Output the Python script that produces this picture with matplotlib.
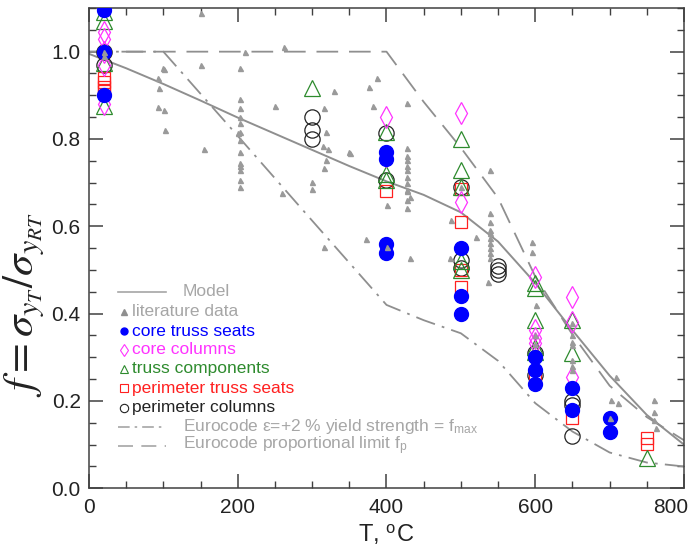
import matplotlib
matplotlib.use("Agg")
import matplotlib.pyplot as plt
from matplotlib.ticker import MultipleLocator, FuncFormatter

plt.rcParams['font.family'] = ['Liberation Sans', 'DejaVu Sans']
plt.rcParams['mathtext.fontset'] = 'stix'

# ---------------- data ----------------
model_T = [0, 50, 100, 150, 200, 250, 300, 350, 400, 450, 500, 550, 600, 650, 700, 750, 800]
model_f = [0.995, 0.962, 0.926, 0.888, 0.849, 0.812, 0.775, 0.738, 0.703, 0.672, 0.632, 0.565, 0.47, 0.362, 0.258, 0.168, 0.10]

ec_max_T = [0, 100, 200, 300, 400, 450, 500, 550, 600, 650, 700, 750, 800]
ec_max_f = [1.0, 1.0, 0.807, 0.613, 0.42, 0.385, 0.355, 0.292, 0.195, 0.13, 0.082, 0.059, 0.05]

ec_p_T = [0, 400, 450, 500, 550, 600, 650, 700, 750, 800]
ec_p_f = [1.0, 1.0, 0.885, 0.78, 0.665, 0.485, 0.352, 0.235, 0.163, 0.11]

lit_T = [20, 20, 99, 101, 93, 94, 93, 101, 102, 150, 155, 151,
         203, 203, 203, 203, 203, 203, 200, 203, 203, 203, 203, 203, 203, 203,
         210, 262, 250, 259,
         316, 318, 315, 322, 318, 316, 300, 300, 316, 330, 349,
         387, 376, 382, 428, 351,
         428, 428, 428, 428, 428, 428, 428, 428, 428, 428, 428, 431,
         401, 373, 431, 401,
         539, 539, 539, 539, 539, 539, 539, 539, 539, 539,
         521, 487, 486, 596, 595, 536, 601, 500, 600, 600,
         650, 650, 650, 650, 650, 650, 650,
         708, 702, 711, 700, 760, 760, 760, 762]
lit_f = [1.0, 0.99, 0.962, 0.96, 0.939, 0.916, 0.874, 0.867, 0.821, 0.97, 0.777, 1.088,
         0.962, 0.891, 0.871, 0.851, 0.836, 0.817, 0.813, 0.798, 0.771, 0.745, 0.737, 0.729, 0.706, 0.69,
         1.0, 1.01, 0.876, 0.677,
         0.871, 0.817, 0.783, 0.777, 0.752, 0.733, 0.702, 0.685, 0.553, 0.91, 0.771,
         0.94, 0.92, 0.876, 0.882, 0.769,
         0.779, 0.76, 0.752, 0.737, 0.729, 0.714, 0.699, 0.684, 0.68, 0.661, 0.641, 0.668,
         0.649, 0.57, 0.527, 0.553,
         0.729, 0.63, 0.611, 0.592, 0.584, 0.573, 0.561, 0.55, 0.538, 0.527,
         0.575, 0.615, 0.527, 0.565, 0.542, 0.473, 0.42, 0.69, 0.35, 0.33,
         0.378, 0.351, 0.336, 0.328, 0.294, 0.279, 0.271,
         0.256, 0.202, 0.196, 0.16, 0.202, 0.175, 0.156, 0.137]

cts_T = [20, 20, 20, 400, 400, 400, 400, 500, 500, 500, 600, 600, 600, 650, 650, 700, 700]
cts_f = [1.095, 1.0, 0.90, 0.77, 0.755, 0.56, 0.54, 0.55, 0.44, 0.40, 0.30, 0.27, 0.24, 0.23, 0.18, 0.16, 0.13]

cc_T = [20, 20, 20, 20, 20, 400, 400, 500, 500, 600, 600, 600, 600, 650, 650, 650]
cc_f = [1.045, 1.03, 1.0, 0.97, 0.88, 0.85, 0.76, 0.86, 0.655, 0.485, 0.363, 0.344, 0.332, 0.439, 0.382, 0.256]

tc_T = [20, 20, 20, 20, 300, 400, 400, 400, 500, 500, 500, 500, 500, 600, 600, 600, 600, 600, 650, 650, 750]
tc_f = [1.09, 1.07, 0.975, 0.875, 0.917, 0.815, 0.72, 0.705, 0.80, 0.73, 0.69, 0.52, 0.50, 0.47, 0.458, 0.386, 0.324, 0.313, 0.386, 0.309, 0.07]

pts_T = [20, 20, 20, 20, 400, 500, 500, 500, 500, 600, 650, 750, 750]
pts_f = [0.94, 0.93, 0.92, 0.91, 0.68, 0.685, 0.61, 0.50, 0.46, 0.26, 0.16, 0.115, 0.102]

pc_T = [20, 20, 300, 300, 300, 400, 400, 500, 500, 500, 550, 550, 550, 600, 600, 650, 650, 650]
pc_f = [1.0, 0.97, 0.85, 0.82, 0.80, 0.813, 0.706, 0.69, 0.523, 0.504, 0.51, 0.50, 0.49, 0.31, 0.26, 0.20, 0.19, 0.12]

legend_labels = ["Model", "literature data", "core truss seats", "core columns",
                 "truss components", "perimeter truss seats", "perimeter columns",
                 "Eurocode \u03b5=+2 % yield strength = f$_{\\mathregular{max}}$",
                 "Eurocode proportional limit f$_{\\mathregular{p}}$"]

# ---------------- style ----------------
GRAY = '#8f8f8f'
LITG = '#9a9a9a'
LGRAY = '#a6a6a6'
BLUE = '#0000ff'
MAG = '#ff33ff'
GREEN = '#2e8b2e'
RED = '#ff2020'
BLACK = '#222222'

fig = plt.figure(figsize=(6.91, 5.54), dpi=100)
ax = fig.add_axes([89/691, (554-488.3)/554, (684-89)/691, (488.3-8)/554])

ax.plot(model_T, model_f, color=GRAY, lw=1.4, zorder=2)
ax.plot(ec_max_T, ec_max_f, color=GRAY, lw=1.3, dashes=(11, 4, 1.5, 4), zorder=2)
ax.plot(ec_p_T, ec_p_f, color=GRAY, lw=1.3, dashes=(12, 6), zorder=2)

ax.plot(pc_T, pc_f, 'o', mfc='none', mec=BLACK, mew=0.9, ms=11, ls='none', zorder=3)
ax.plot(pts_T, pts_f, 's', mfc='none', mec=RED, mew=0.9, ms=8.5, ls='none', zorder=3)
ax.plot(tc_T, tc_f, '^', mfc='none', mec=GREEN, mew=0.9, ms=12, ls='none', zorder=3)
ax.plot(cc_T, cc_f, 'd', mfc='none', mec=MAG, mew=0.9, ms=11, ls='none', zorder=3)
ax.plot(cts_T, cts_f, 'o', color=BLUE, ms=10, ls='none', zorder=4)
ax.plot(lit_T, lit_f, '^', color=LITG, ms=3.6, ls='none', zorder=5)

XMAX = 800
ax.set_xlim(0, XMAX)
ax.set_ylim(0, 1.1)
ax.xaxis.set_major_locator(MultipleLocator(200))
ax.xaxis.set_minor_locator(MultipleLocator(50))
ax.yaxis.set_major_locator(MultipleLocator(0.2))
ax.yaxis.set_minor_locator(MultipleLocator(0.05))
ax.yaxis.set_major_formatter(matplotlib.ticker.FormatStrFormatter('%.1f'))
# last x label drawn separately (shifted left to stay inside the figure)
ax.xaxis.set_major_formatter(FuncFormatter(lambda v, p: '' if abs(v - XMAX) < 1e-6 else '%d' % v))
ax.tick_params(which='both', direction='in', top=True, right=True, color='#404040',
               labelsize=15, labelcolor='#222222')
ax.tick_params(which='major', length=10, width=1.1)
ax.tick_params(which='minor', length=5, width=1.0)
ax.tick_params(axis='x', pad=7)
ax.tick_params(axis='y', pad=6)
for s in ax.spines.values():
    s.set_color('#404040')
    s.set_linewidth(1.1)

ax.annotate('%d' % XMAX, xy=(XMAX, 0), xycoords='data', xytext=(-13, -9.7),
            textcoords='offset pixels', ha='center', va='top', fontsize=15,
            color='#222222', annotation_clip=False)

ax.set_xlabel('T, $^{\\mathregular{o}}$C', fontsize=17, color='#222222', labelpad=4)
fig.text(24/691, 1 - 305/554, r'$f = \sigma_{y_T}/\sigma_{y_{RT}}$', rotation=90,
         ha='center', va='center', fontsize=31, color='#222222')

# ---------------- custom legend ----------------
def axc(px, py):
    return ((px - 89) / 595.0, (488.3 - py) / 480.3)

rows_y = [292, 311.5, 331, 350, 369, 388, 407.5, 427, 446]
text_colors = [LGRAY, LGRAY, BLUE, MAG, GREEN, RED, BLACK, LGRAY, LGRAY]
fs_leg = 12.5
for i, style in [(0, dict(ls='-')), (7, dict(dashes=(7, 3, 1.5, 3))), (8, dict(dashes=(9, 5)))]:
    x0, y0 = axc(118, rows_y[i])
    x1, _ = axc(166, rows_y[i])
    ax.plot([x0, x1], [y0, y0], transform=ax.transAxes, color=LGRAY, lw=1.2, clip_on=False, zorder=6, **style)
    tx, _ = axc(183, rows_y[i])
    ax.text(tx, y0, legend_labels[i], transform=ax.transAxes, color=text_colors[i],
            fontsize=fs_leg, va='center', ha='left', zorder=6)
mk = {1: dict(marker='^', color=GRAY, ms=5),
      2: dict(marker='o', color=BLUE, ms=5),
      3: dict(marker='d', mfc='none', mec=MAG, ms=6, mew=0.8),
      4: dict(marker='^', mfc='none', mec=GREEN, ms=6, mew=0.8),
      5: dict(marker='s', mfc='none', mec=RED, ms=5.5, mew=0.8),
      6: dict(marker='o', mfc='none', mec=BLACK, ms=6, mew=0.8)}
for i, kw in mk.items():
    mx, my = axc(124, rows_y[i])
    ax.plot([mx], [my], transform=ax.transAxes, ls='none', zorder=6, **kw)
    tx, _ = axc(132, rows_y[i])
    ax.text(tx, my, legend_labels[i], transform=ax.transAxes, color=text_colors[i],
            fontsize=fs_leg, va='center', ha='left', zorder=6)

fig.savefig('out.png', dpi=100)
